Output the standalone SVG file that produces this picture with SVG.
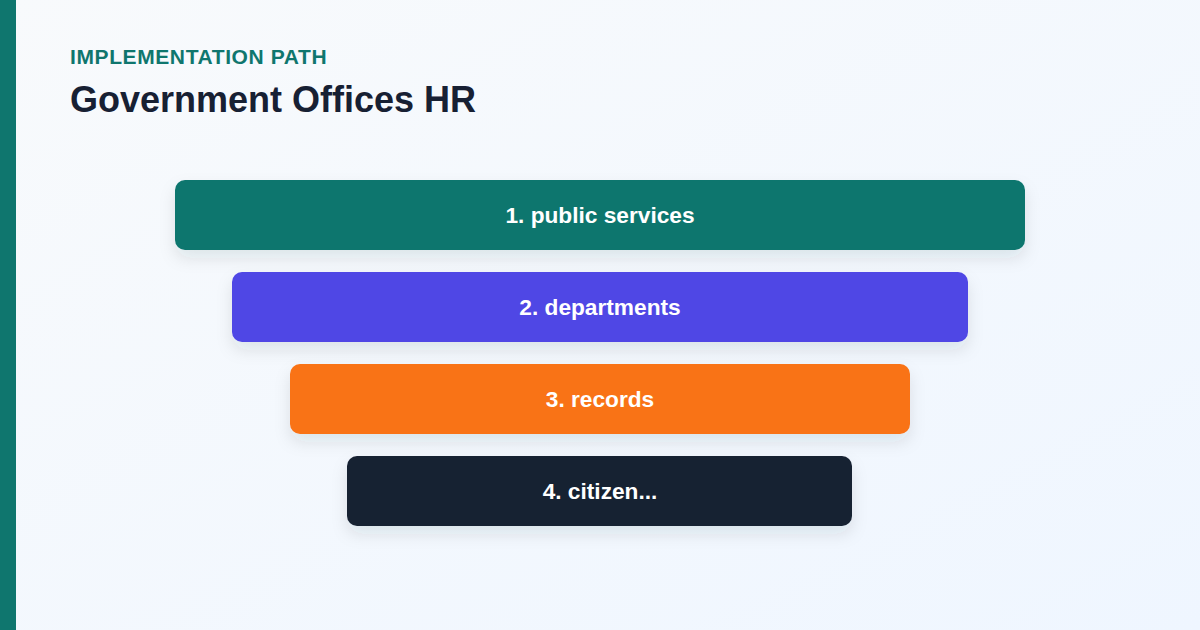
<svg xmlns="http://www.w3.org/2000/svg" width="1200" height="630" viewBox="0 0 1200 630">
<defs>
<linearGradient id="bg" x1="0" y1="0" x2="1" y2="1">
<stop offset="0" stop-color="#f8fafc"/>
<stop offset="1" stop-color="#eff6ff"/>
</linearGradient>
<filter id="sh" x="-10%" y="-30%" width="120%" height="180%">
<feDropShadow dx="0" dy="8" stdDeviation="8" flood-color="#1e293b" flood-opacity="0.10"/>
</filter>
<style>
.bar{filter:url(#sh)}
.lbl{font-family:"Liberation Sans",Arial,sans-serif;font-weight:bold;font-size:22.7px;fill:#ffffff;text-anchor:middle}
</style>
</defs>
<rect width="1200" height="630" fill="url(#bg)"/>
<rect x="0" y="0" width="16" height="630" fill="#0f766e"/>
<text x="70" y="64" font-family="Liberation Sans,Arial,sans-serif" font-weight="bold" font-size="21" letter-spacing="0.6" fill="#0f766e">IMPLEMENTATION PATH</text>
<text x="70" y="112" font-family="Liberation Sans,Arial,sans-serif" font-weight="bold" font-size="36" fill="#172033">Government Offices HR</text>
<g id="connectors"></g>
<g id="node1"><rect class="bar" x="175" y="180" width="850" height="70" rx="10" fill="#0f766e"/><text class="lbl" x="600" y="223">1. public services</text></g>
<g id="node2"><rect class="bar" x="232" y="272" width="736" height="70" rx="10" fill="#4f46e5"/><text class="lbl" x="600" y="315">2. departments</text></g>
<g id="node3"><rect class="bar" x="290" y="364" width="620" height="70" rx="10" fill="#f97316"/><text class="lbl" x="600" y="407">3. records</text></g>
<g id="node4"><rect class="bar" x="347" y="456" width="505" height="70" rx="10" fill="#172133"/><text class="lbl" x="600" y="499">4. citizen...</text></g>
</svg>
